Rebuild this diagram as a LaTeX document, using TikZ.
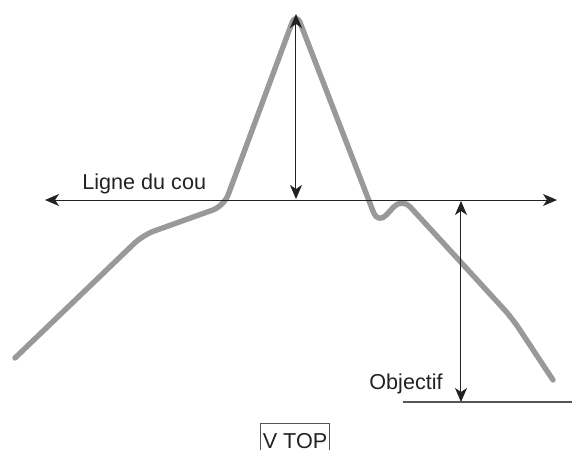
\documentclass[tikz,border=0pt]{standalone}
\usepackage{fontspec}
\setmainfont{Liberation Sans}
\usepackage{tikz}
\usetikzlibrary{arrows.meta,positioning}
\definecolor{cCurve}{HTML}{999999}
\definecolor{cLine}{HTML}{222222}
\definecolor{cBase}{HTML}{555555}
\tikzset{
  profile/.style={draw=cCurve, line width=2.7pt, rounded corners=6pt, line join=round, line cap=round},
  dim/.style={{Stealth[length=7pt,width=6pt,inset=2pt]}-{Stealth[length=7pt,width=6pt,inset=2pt]}, line width=0.5pt, draw=cLine},
  base/.style={line width=0.7pt, draw=cBase},
  lbl/.style={font=\fontsize{10.8}{12}\selectfont, text=cLine, inner sep=0pt},
  tag/.style={draw=cBase, line width=0.6pt, font=\fontsize{10.8}{12}\selectfont, text=cLine,
              minimum width=33pt, minimum height=17pt, inner sep=1pt},
}

\begin{document}
\begin{tikzpicture}[x=0.5pt, y=-0.5pt]
  \useasboundingbox (0,0) rectangle (575,450);
  % profile
  \draw[profile] (15,358) -- (143,235) -- (224,206) -- (296,12) -- (378,224) -- (402,198) -- (512,318) -- (553,380);
  % reference points
  \coordinate (neckL) at (45,200);
  \coordinate (neckR) at (557,200);
  \coordinate (peak) at (296,14);
  \coordinate (peakB) at (296,199);
  \coordinate (objT) at (461,201);
  \coordinate (objB) at (461,402);
  \coordinate (baseL) at (403,402);
  \coordinate (baseR) at (572,402);
  \draw[dim] (neckL) -- (neckR);
  \draw[dim] (peakB) -- (peak);
  \draw[dim] (objT) -- (objB);
  \draw[base] (baseL) -- (baseR);
  \node[lbl, anchor=west] (cou) at (82,184) {Ligne du cou};
  \node[lbl, anchor=west] (obj) at (369,384) {Objectif};
  \node[tag, anchor=north] (vtop) at (295,423) {V TOP};
\end{tikzpicture}
\end{document}
